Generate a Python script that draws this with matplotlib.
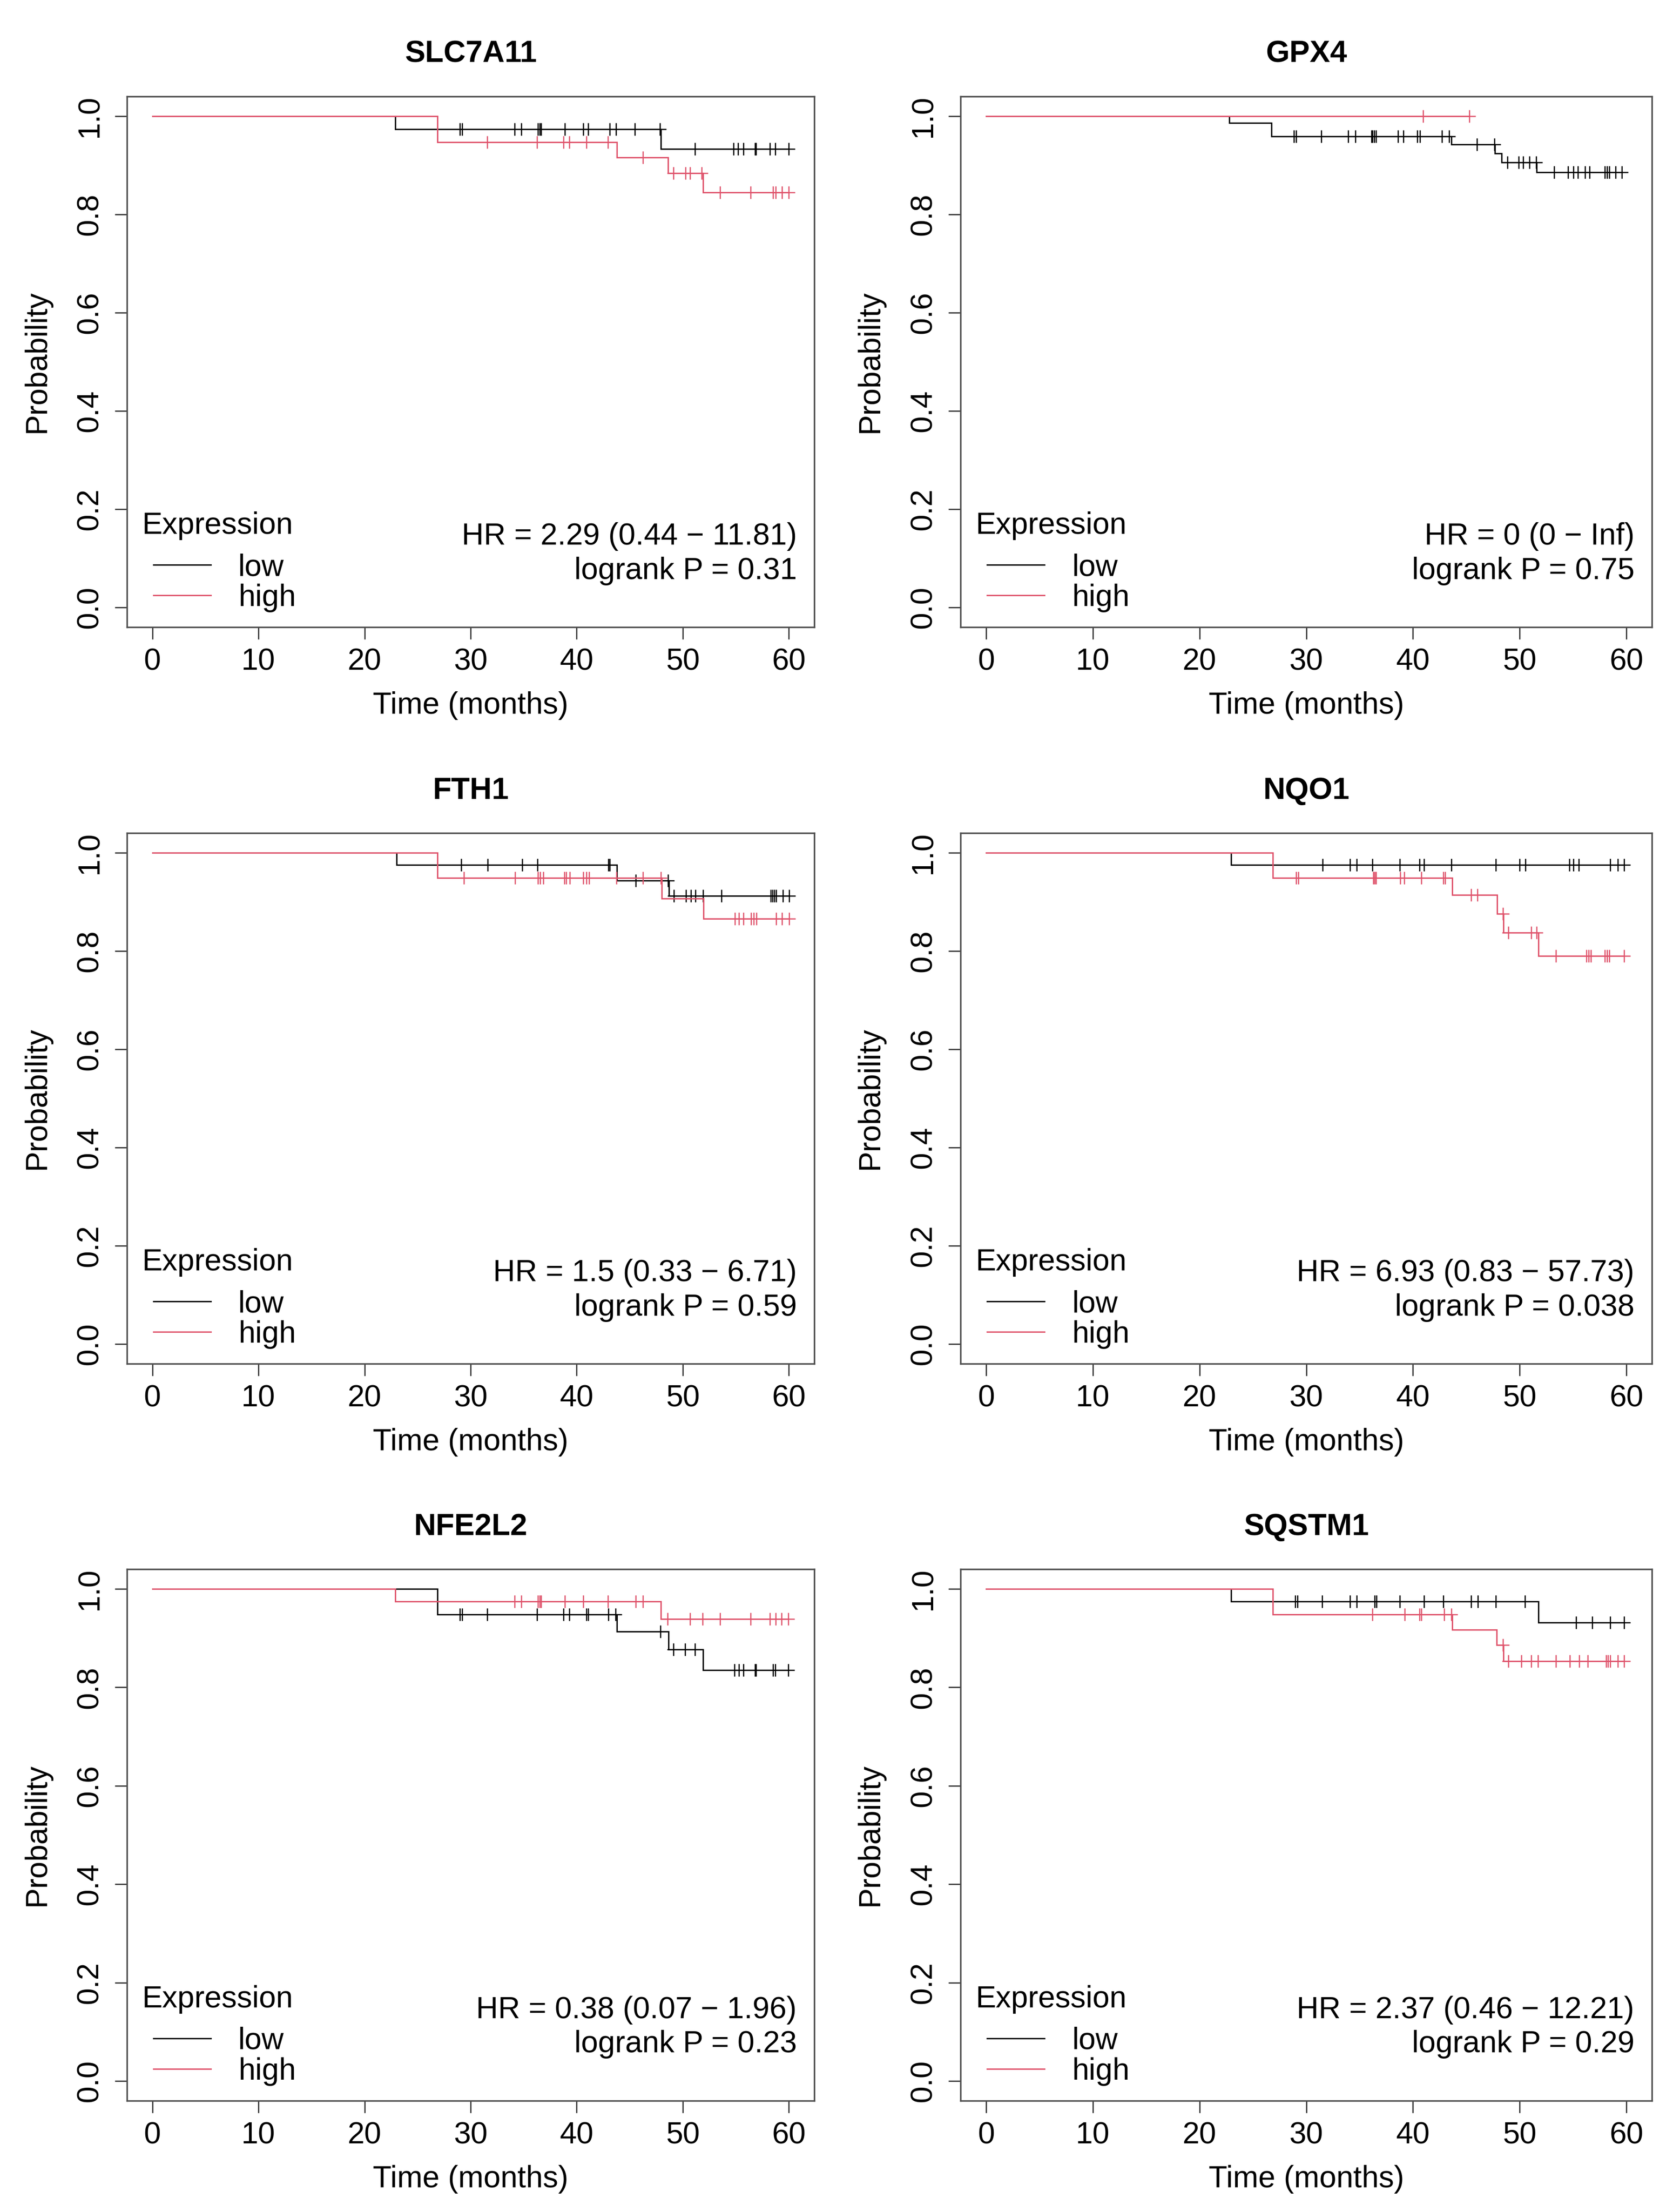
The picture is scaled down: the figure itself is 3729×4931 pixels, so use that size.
import numpy as np
import matplotlib
matplotlib.use("Agg")
import matplotlib.pyplot as plt

plt.rcParams['font.family'] = ['Liberation Sans', 'DejaVu Sans']

# ---------------- data ----------------
genes = ['SLC7A11', 'GPX4', 'FTH1', 'NQO1', 'NFE2L2', 'SQSTM1']
hr_text = ['HR = 2.29 (0.44 \u2212 11.81)', 'HR = 0 (0 \u2212 Inf)',
           'HR = 1.5 (0.33 \u2212 6.71)', 'HR = 6.93 (0.83 \u2212 57.73)',
           'HR = 0.38 (0.07 \u2212 1.96)', 'HR = 2.37 (0.46 \u2212 12.21)']
p_text = ['logrank P = 0.31', 'logrank P = 0.75', 'logrank P = 0.59',
          'logrank P = 0.038', 'logrank P = 0.23', 'logrank P = 0.29']
x_ticks = [0, 10, 20, 30, 40, 50, 60]
y_ticks = [0.0, 0.2, 0.4, 0.6, 0.8, 1.0]
y_ticklabels = ['0.0', '0.2', '0.4', '0.6', '0.8', '1.0']

# SLC7A11
slc_low_t = [22.9, 47.95]
slc_low_s = [0.973, 0.933]
slc_low_c = [29.0, 29.2, 34.15, 34.8, 36.35, 36.5, 36.65, 38.9, 40.6, 41.1, 43.1, 43.7,
             45.5, 47.85, 51.15, 54.8, 55.2, 55.7, 56.8, 56.9, 58.2, 58.7, 60.0]
slc_high_t = [26.85, 43.8, 48.6, 51.9]
slc_high_s = [0.947, 0.916, 0.884, 0.845]
slc_high_c = [31.55, 36.25, 38.75, 39.3, 40.9, 42.95, 46.25, 49.1, 50.25, 50.7, 51.8,
              53.5, 56.4, 58.5, 58.75, 59.35, 60.0]

# GPX4
gpx_low_t = [22.8, 26.75, 43.6, 47.7, 48.3, 51.6]
gpx_low_s = [0.986, 0.959, 0.942, 0.924, 0.906, 0.886]
gpx_low_c = [28.85, 29.05, 31.4, 33.95, 34.6, 36.1, 36.2, 36.35, 36.55, 38.6, 39.1, 40.4,
             40.65, 42.7, 43.4, 46.0, 47.65, 48.85, 49.9, 50.35, 50.9, 51.55, 53.25, 54.55,
             55.05, 55.45, 56.15, 56.55, 58.0, 58.2, 58.4, 59.0, 59.6]
gpx_high_t = []
gpx_high_s = []
gpx_high_c = [40.95, 45.3]

# FTH1
fth_low_t = [23.0, 43.8, 48.7]
fth_low_s = [0.975, 0.9435, 0.912]
fth_low_c = [29.1, 31.6, 34.85, 36.3, 43.0, 43.1, 45.55, 48.6, 49.15, 50.3, 50.75, 51.2,
             51.9, 53.65, 58.3, 58.45, 58.65, 58.8, 59.45, 60.05]
fth_high_t = [26.85, 48.0, 51.95]
fth_high_s = [0.949, 0.9065, 0.866]
fth_high_c = [29.35, 34.2, 36.35, 36.55, 36.85, 38.85, 39.0, 39.35, 40.6, 40.9, 41.15,
              43.75, 46.25, 47.95, 54.9, 55.3, 55.7, 56.45, 56.7, 56.95, 58.8, 59.35, 60.05]

# NQO1
nqo_low_t = [22.95]
nqo_low_s = [0.975]
nqo_low_c = [31.55, 34.1, 34.75, 36.2, 38.75, 40.6, 41.05, 43.6, 47.75, 50.0, 50.55,
             54.65, 55.05, 55.55, 58.5, 59.2, 59.8]
nqo_high_t = [26.85, 43.7, 47.9, 48.5, 51.75]
nqo_high_s = [0.949, 0.914, 0.8755, 0.837, 0.79]
nqo_high_c = [29.05, 29.25, 36.3, 36.4, 36.55, 38.8, 39.2, 40.8, 42.85, 43.0, 45.45, 46.05,
              48.45, 48.95, 51.1, 51.6, 53.4, 56.25, 56.45, 56.7, 58.0, 58.2, 58.4, 59.8]

# NFE2L2
nfe_low_t = [26.85, 43.8, 48.65, 51.9]
nfe_low_s = [0.948, 0.913, 0.877, 0.835]
nfe_low_c = [29.0, 29.2, 31.55, 36.25, 38.75, 39.3, 40.9, 41.1, 43.0, 43.65, 47.9, 49.1,
             50.2, 51.15, 54.85, 55.3, 55.7, 56.8, 56.9, 58.5, 58.7, 59.95]
nfe_high_t = [22.9, 47.95]
nfe_high_s = [0.974, 0.939]
nfe_high_c = [34.15, 34.8, 36.35, 36.5, 36.65, 38.9, 40.6, 42.95, 45.55, 46.25, 48.55,
              50.7, 51.85, 53.5, 56.4, 58.2, 58.75, 59.3, 59.95]

# SQSTM1
sqs_low_t = [22.95, 51.75]
sqs_low_s = [0.974, 0.932]
sqs_low_c = [28.95, 29.2, 31.5, 34.1, 34.75, 36.4, 36.6, 38.75, 41.05, 42.85, 45.45, 46.1,
             47.75, 50.5, 55.3, 56.8, 58.5, 59.8]
sqs_high_t = [26.85, 43.7, 47.85, 48.5]
sqs_high_s = [0.948, 0.917, 0.886, 0.853]
sqs_high_c = [36.2, 39.25, 40.6, 40.8, 42.95, 43.6, 48.45, 48.95, 50.15, 51.1, 51.7, 53.4,
              54.7, 55.6, 56.4, 58.1, 58.3, 58.5, 59.2, 59.8]

curves = {
    'SLC7A11': ((slc_low_t, slc_low_s, slc_low_c), (slc_high_t, slc_high_s, slc_high_c)),
    'GPX4': ((gpx_low_t, gpx_low_s, gpx_low_c), (gpx_high_t, gpx_high_s, gpx_high_c)),
    'FTH1': ((fth_low_t, fth_low_s, fth_low_c), (fth_high_t, fth_high_s, fth_high_c)),
    'NQO1': ((nqo_low_t, nqo_low_s, nqo_low_c), (nqo_high_t, nqo_high_s, nqo_high_c)),
    'NFE2L2': ((nfe_low_t, nfe_low_s, nfe_low_c), (nfe_high_t, nfe_high_s, nfe_high_c)),
    'SQSTM1': ((sqs_low_t, sqs_low_s, sqs_low_c), (sqs_high_t, sqs_high_s, sqs_high_c)),
}

# ---------------- style ----------------
W, H = 3729, 4931
DPI = 100
FS = 49
TXT = '#000000'
LOW_COL = '#000000'
HIGH_COL = '#DF536B'
SPINE_COL = '#4d4d4d'

fig = plt.figure(figsize=(W / DPI, H / DPI), dpi=DPI)
fig.patch.set_facecolor('white')

col_px = [(283, 1532), (2141, 1541)]                # left, width in pixels
row_px = [(215, 1398), (1857, 3040), (3498, 4683)]  # top, bottom in pixels


def draw_curve(ax, t, s, c, color):
    last = max(list(t) + list(c))
    xs = [0.0] + list(t) + [last]
    ys = [1.0] + list(s) + [s[-1] if len(s) else 1.0]
    line, = ax.step(xs, ys, where='post', color=color, lw=2.2,
                    solid_joinstyle='miter')
    tt = np.asarray(t, dtype=float)
    idx = np.searchsorted(tt, np.asarray(c, dtype=float), side='right')
    surv_all = np.concatenate([[1.0], np.asarray(s, dtype=float)])
    ax.plot(c, surv_all[idx], ls='none', marker='+', ms=20, mew=1.9, color=color)
    return line


for i, gene in enumerate(genes):
    r, cidx = divmod(i, 2)
    left, width = col_px[cidx]
    top, bottom = row_px[r]
    ax = fig.add_axes([left / W, (H - bottom) / H, width / W, (bottom - top) / H])

    (lt, ls_, lc), (ht, hs, hc) = curves[gene]
    l_line = draw_curve(ax, lt, ls_, lc, LOW_COL)
    h_line = draw_curve(ax, ht, hs, hc, HIGH_COL)

    ax.set_xlim(-2.4, 62.4)
    ax.set_ylim(-0.04, 1.04)
    ax.set_xticks(x_ticks)
    ax.set_xticklabels([str(v) for v in x_ticks], fontsize=FS)
    ax.set_yticks(y_ticks)
    ax.set_yticklabels(y_ticklabels, fontsize=FS)
    for lab in ax.get_yticklabels():
        lab.set_rotation(90)
        lab.set_ha('center')
        lab.set_va('center')

    ax.tick_params(axis='both', direction='out', length=19.5, width=2.0,
                   color='#333333', labelcolor=TXT)
    ax.tick_params(axis='x', pad=13)
    ax.tick_params(axis='y', pad=40)
    for sp in ax.spines.values():
        sp.set_color(SPINE_COL)
        sp.set_linewidth(2.5)

    ax.set_title(gene, fontsize=FS, fontweight='bold', pad=55, color=TXT)
    ax.set_xlabel('Time (months)', fontsize=FS, color=TXT)
    ax.xaxis.label.set_va('center')
    ax.xaxis.set_label_coords(0.5, -0.148)
    ax.set_ylabel('Probability', fontsize=FS, color=TXT)
    ax.yaxis.label.set_va('center')
    ax.yaxis.set_label_coords(-0.131, 0.5)

    ax.text(-1.0, 0.15, 'Expression', fontsize=FS, ha='left', va='baseline', color=TXT)
    ax.legend([l_line, h_line], ['low', 'high'], loc='upper left',
              bbox_to_anchor=(0.0383, 0.1394), frameon=False, fontsize=FS,
              handlelength=1.88, handletextpad=0.9, labelspacing=0.06,
              borderpad=0, borderaxespad=0, labelcolor=TXT)

    ax.text(60.75, 0.128, hr_text[i], fontsize=FS, ha='right', va='baseline', color=TXT)
    ax.text(60.75, 0.058, p_text[i], fontsize=FS, ha='right', va='baseline', color=TXT)

fig.savefig('out.png', dpi=DPI, facecolor='white')
